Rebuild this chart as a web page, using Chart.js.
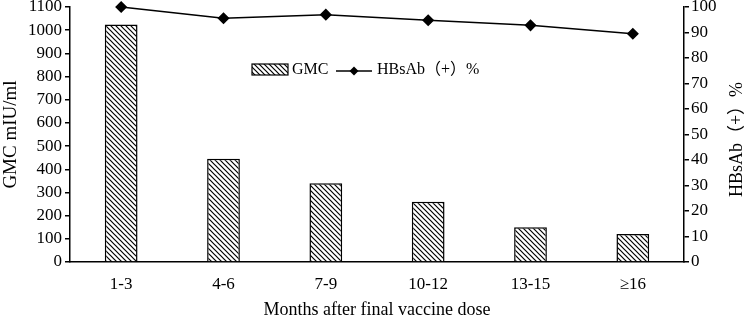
<!DOCTYPE html>
<html lang="en">
<head>
    <meta charset="UTF-8">
    <title>GMC and HBsAb</title>
    <script src="https://cdn.jsdelivr.net/npm/chart.js"></script>
    <style>
        body { margin: 0; background: #fff; }
        #caja { position: relative; width: 749px; height: 321px; }
    </style>
</head>
<body>
    <div id="caja">
        <canvas id="grafico"></canvas>
    </div>

<script>
    const meses = ['1-3', '4-6', '7-9', '10-12', '13-15', '≥16'];
    const gmc = [1025, 445, 340, 260, 150, 121];
    const hbsab = [100, 95.6, 97.0, 94.8, 92.8, 89.5];
    const tituloX = 'Months after final vaccine dose';
    const tituloIzq = 'GMC mIU/ml';
    const tituloDer = 'HBsAb（+）%';

    const fuente = "'Liberation Serif', 'Times New Roman', 'Noto Sans CJK SC', serif";

    // trama diagonal de las barras
    function crearTrama() {
        const s = 5;
        const c = document.createElement('canvas');
        c.width = s; c.height = s;
        const g = c.getContext('2d');
        g.fillStyle = '#fff';
        g.fillRect(0, 0, s, s);
        g.strokeStyle = '#000';
        g.lineWidth = 1.2;
        g.beginPath();
        g.moveTo(0, 0); g.lineTo(s, s);
        g.moveTo(-1, s - 1); g.lineTo(1, s + 1);
        g.moveTo(s - 1, -1); g.lineTo(s + 1, 1);
        g.stroke();
        return g.createPattern(c, 'repeat');
    }

    const ctx = document.getElementById('grafico').getContext('2d');
    const trama = crearTrama();

    const extras = {
        id: 'extras',
        afterDraw(chart) {
            const c = chart.ctx;
            const area = chart.chartArea;
            c.save();
            // titulo eje derecho
            c.font = '18px ' + fuente;
            c.fillStyle = '#000';
            c.textAlign = 'center';
            c.textBaseline = 'middle';
            c.translate(737, (area.top + area.bottom) / 2 + 5);
            c.rotate(-Math.PI / 2);
            c.fillText(tituloDer, 0, 0);
            c.restore();

            // leyenda
            c.save();
            c.fillStyle = trama;
            c.fillRect(252, 64, 36, 11);
            c.strokeStyle = '#000';
            c.lineWidth = 1.2;
            c.strokeRect(252, 64, 36, 11);
            c.font = '16px ' + fuente;
            c.fillStyle = '#000';
            c.textBaseline = 'middle';
            c.textAlign = 'left';
            c.fillText(chart.data.datasets[1].label, 292, 70);
            c.lineWidth = 1.5;
            c.beginPath();
            c.moveTo(336, 71); c.lineTo(372, 71);
            c.stroke();
            c.beginPath();
            c.moveTo(354, 66.5); c.lineTo(358.5, 71); c.lineTo(354, 75.5); c.lineTo(349.5, 71);
            c.closePath();
            c.fill();
            c.fillText(chart.data.datasets[0].label, 377, 70);
            c.restore();
        }
    };

    const sinComa = v => String(v);

    new Chart(ctx, {
        data: {
            labels: meses,
            datasets: [
                {
                    type: 'line',
                    label: tituloDer,
                    data: hbsab,
                    yAxisID: 'yDer',
                    borderColor: '#000',
                    backgroundColor: '#000',
                    borderWidth: 1.5,
                    pointStyle: 'rectRot',
                    pointRadius: 5,
                    tension: 0,
                    clip: false,
                    order: 0
                },
                {
                    type: 'bar',
                    label: 'GMC',
                    data: gmc,
                    yAxisID: 'yIzq',
                    backgroundColor: trama,
                    borderColor: '#000',
                    borderWidth: 1.5,
                    barPercentage: 0.32,
                    categoryPercentage: 1,
                    order: 1
                }
            ]
        },
        options: {
            responsive: true,
            maintainAspectRatio: false,
            animation: false,
            layout: { padding: { top: 7 } },
            plugins: {
                legend: { display: false },
                tooltip: { enabled: false }
            },
            scales: {
                x: {
                    grid: { display: false, drawTicks: false },
                    border: { color: '#000', width: 1.5 },
                    ticks: { color: '#000', font: { family: fuente, size: 17 }, padding: 12, maxRotation: 0 },
                    title: { display: true, text: tituloX, color: '#000', font: { family: fuente, size: 18 }, padding: 0 },
                    afterFit(s) { s.height = 59; }
                },
                yIzq: {
                    position: 'left',
                    min: 0,
                    max: 1100,
                    grid: { drawOnChartArea: false, color: '#000', lineWidth: 1.5, tickLength: 5 },
                    border: { color: '#000', width: 1.5 },
                    ticks: { stepSize: 100, autoSkip: false, color: '#000', font: { family: fuente, size: 17 }, padding: 3, callback: sinComa },
                    title: { display: true, text: tituloIzq, color: '#000', font: { family: fuente, size: 19 }, padding: 0 },
                    afterFit(s) { s.width = 70; s.paddingTop = 0; }
                },
                yDer: {
                    position: 'right',
                    min: 0,
                    max: 100,
                    grid: { drawOnChartArea: false, color: '#000', lineWidth: 1.5, tickLength: 5 },
                    border: { color: '#000', width: 1.5 },
                    ticks: { stepSize: 10, autoSkip: false, color: '#000', font: { family: fuente, size: 17 }, padding: 2, callback: sinComa },
                    afterFit(s) { s.width = 65; s.paddingTop = 0; }
                }
            }
        },
        plugins: [extras]
    });
</script>
</body>
</html>
